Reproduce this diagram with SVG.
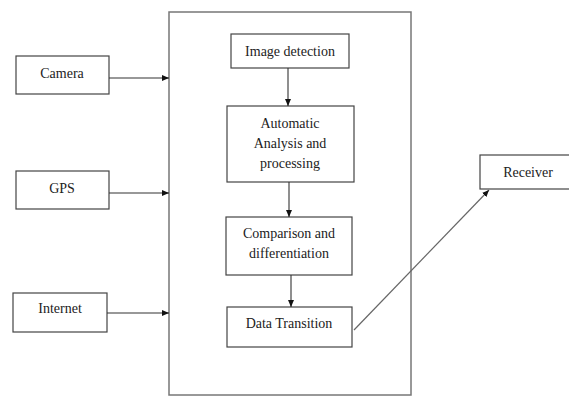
<svg xmlns="http://www.w3.org/2000/svg" width="569" height="397" viewBox="0 0 569 397">
<style>
.box{fill:#fff;stroke:#444;stroke-width:1.2}
.cont{fill:none;stroke:#777;stroke-width:1.5}
.lbl{font-family:"Liberation Serif","Times New Roman",serif;font-size:14px;fill:#222;text-anchor:middle;dominant-baseline:central}
.ln{stroke:#333;stroke-width:1.1;fill:none}
.ln2{stroke:#666;stroke-width:1.2;fill:none}
</style>
<defs>
<marker id="ah" markerWidth="8" markerHeight="8" refX="7" refY="4" orient="auto" markerUnits="userSpaceOnUse">
<path d="M0,1 L7,4 L0,7 Z" fill="#111"/>
</marker>
</defs>
<rect width="569" height="397" fill="#fff"/>
<g id="container"><rect class="cont" x="169" y="12" width="242" height="383"/></g>
<g id="camera"><rect class="box" x="16" y="56" width="93" height="38"/><text class="lbl" x="62" y="73">Camera</text></g>
<g id="gps"><rect class="box" x="16" y="171" width="93" height="38"/><text class="lbl" x="62" y="188">GPS</text></g>
<g id="internet"><rect class="box" x="13" y="293" width="94" height="39"/><text class="lbl" x="60" y="308">Internet</text></g>
<g id="image-detection"><rect class="box" x="231" y="34" width="118" height="34"/><text class="lbl" x="290" y="51">Image detection</text></g>
<g id="automatic"><rect class="box" x="227" y="106" width="127" height="76"/><text class="lbl" x="290" y="123">Automatic</text><text class="lbl" x="290" y="143">Analysis and</text><text class="lbl" x="290" y="163">processing</text></g>
<g id="comparison"><rect class="box" x="226" y="217" width="126" height="58"/><text class="lbl" x="289" y="233">Comparison and</text><text class="lbl" x="289" y="253">differentiation</text></g>
<g id="data-transition"><rect class="box" x="227" y="307" width="125" height="40"/><text class="lbl" x="289" y="323">Data Transition</text></g>
<g id="receiver"><rect class="box" x="480" y="155" width="96" height="34"/><text class="lbl" x="528" y="172">Receiver</text></g>
<g id="connectors">
<line class="ln" x1="109" y1="78" x2="169" y2="78" marker-end="url(#ah)"/>
<line class="ln" x1="109" y1="193" x2="169" y2="193" marker-end="url(#ah)"/>
<line class="ln" x1="107" y1="313" x2="169" y2="313" marker-end="url(#ah)"/>
<line class="ln" x1="288" y1="68" x2="288" y2="106" marker-end="url(#ah)"/>
<line class="ln" x1="289" y1="182" x2="289" y2="217" marker-end="url(#ah)"/>
<line class="ln" x1="291" y1="275" x2="291" y2="307" marker-end="url(#ah)"/>
<line class="ln2" x1="354" y1="330" x2="489" y2="190" marker-end="url(#ah)"/>
</g>
</svg>
